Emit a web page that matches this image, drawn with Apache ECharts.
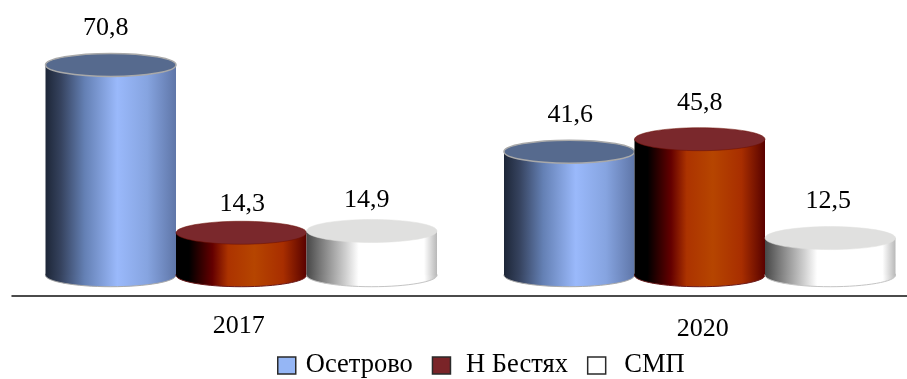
<!DOCTYPE html>
<html>
<head>
<meta charset="utf-8">
<style>html,body{margin:0;padding:0;background:#fff}#chart{width:907px;height:379px}</style>
<script src="https://cdn.jsdelivr.net/npm/echarts@6/dist/echarts.min.js"></script>
</head>
<body>
<div id="chart"></div>
<script>
// Values per year
const years = ['2017', '2020'];
const seriesNames = ['Осетрово', 'Н Бестях', 'СМП'];
const osetrovo = [70.8, 41.6];
const nBestyakh = [14.3, 45.8];
const smp = [14.9, 12.5];

// Cylinder appearance
const barWidth = 130.5;
const capRy = 11.5;
const valueFont = '26px "Liberation Serif"';
const looks = [
  { stops: [[0,'#1d2637'],[0.12,'#36435f'],[0.3,'#6480b4'],[0.55,'#9ab9fb'],[0.78,'#86a4e0'],[1,'#5f76a8']],
    cap: '#566a8e', capEdge: '#a9a9a9', capWidth: 1.5, edge: '#a9a9a9', swatch: '#95b6f5' },
  { stops: [[0,'#000000'],[0.1,'#000000'],[0.28,'#640000'],[0.4,'#ac3300'],[0.6,'#b64500'],[0.82,'#a82e00'],[0.96,'#6a0c00'],[1,'#5a0000']],
    cap: '#7a282c', capEdge: '#6a0c00', capWidth: 0.5, edge: '#6a1a1a', swatch: '#7a2428' },
  { stops: [[0,'#474747'],[0.1,'#767676'],[0.3,'#cfcfcf'],[0.4,'#ffffff'],[0.9,'#ffffff'],[1,'#b8b8b8']],
    cap: '#e0e0df', capEdge: '#e0e0df', capWidth: 0.5, edge: '#c4c4c4', swatch: '#ffffff' }
];
// Fine placement of each value label relative to the top of its cylinder: [dx, dy]
const labelShift = [
  [[-5, -37], [1, -37]],
  [[1, -29], [0, -36]],
  [[-5, -31], [-2, -37]]
];
// Space between each legend swatch and its text
const legendTextPad = [5, 4, 7];

function cylinder(seriesIndex) {
  const look = looks[seriesIndex];
  return function (params, api) {
    const i = api.value(0);
    const top = api.coord([i, api.value(1)]);
    const base = api.coord([i, 0]);
    const cx = top[0] + (seriesIndex - 1) * barWidth;
    const x = cx - barWidth / 2;
    const fill = new echarts.graphic.LinearGradient(0, 0, 1, 0,
      look.stops.map(s => ({ offset: s[0], color: s[1] })));
    const shift = labelShift[seriesIndex][i];
    return {
      type: 'group',
      children: [
        { type: 'ellipse', shape: { cx: cx, cy: base[1], rx: barWidth / 2, ry: capRy },
          style: { fill: fill, stroke: look.edge, lineWidth: 1 } },
        { type: 'rect', shape: { x: x, y: top[1], width: barWidth, height: base[1] - top[1] },
          style: { fill: fill } },
        { type: 'ellipse', shape: { cx: cx, cy: top[1], rx: barWidth / 2, ry: capRy },
          style: { fill: look.cap, stroke: look.capEdge, lineWidth: look.capWidth } },
        { type: 'text', x: cx + shift[0], y: top[1] + shift[1],
          style: { text: String(api.value(1)).replace('.', ','), font: valueFont, fill: '#000',
                   align: 'center', verticalAlign: 'middle' } }
      ]
    };
  };
}

const chart = echarts.init(document.getElementById('chart'));
chart.setOption({
  animation: false,
  backgroundColor: '#fff',
  grid: { left: 12, top: 2, width: 917, height: 294, outerBoundsMode: 'none' },
  legend: {
    left: 277, top: 352, padding: 0,
    itemWidth: 18, itemHeight: 17, itemGap: 19,
    icon: 'rect',
    data: seriesNames.map((name, k) => ({
      name: name,
      itemStyle: { color: looks[k].swatch, borderColor: '#2a2a2a', borderWidth: 1.5 },
      textStyle: { padding: [0, 0, 0, legendTextPad[k]] }
    })),
    formatter: name => (name === seriesNames[0] ? name : ' ' + name),
    textStyle: { fontFamily: 'Liberation Serif', fontSize: 26.5, color: '#000' }
  },
  xAxis: {
    type: 'category',
    data: [
      { value: years[0], textStyle: { padding: [0, 5, 0, 0] } },
      { value: years[1], textStyle: { padding: [3, 0, 0, 6] } }
    ],
    axisLine: { onZero: false, lineStyle: { color: '#111', width: 1.5 } },
    axisTick: { show: false },
    axisLabel: { margin: 17, fontFamily: 'Liberation Serif', fontSize: 26, color: '#000' }
  },
  yAxis: { type: 'value', min: -7, max: 92, show: false },
  series: [osetrovo, nBestyakh, smp].map((values, k) => ({
    name: seriesNames[k],
    type: 'custom',
    renderItem: cylinder(k),
    encode: { x: 0, y: 1 },
    itemStyle: { color: looks[k].swatch },
    data: values.map((v, i) => [i, v])
  }))
});
</script>
</body>
</html>
